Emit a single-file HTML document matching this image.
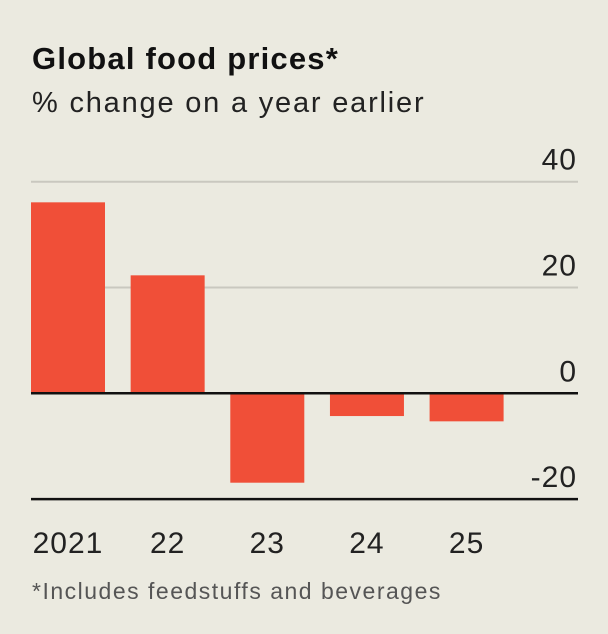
<!DOCTYPE html>
<html><head><meta charset="utf-8"><style>
html,body{margin:0;padding:0;background:#ebeae0;}
body{width:608px;height:634px;position:relative;overflow:hidden;font-family:"Liberation Sans",sans-serif;}
.t{position:absolute;white-space:nowrap;}
</style></head><body>
<div class="t" style="left:32px;top:41px;font-size:31px;font-weight:bold;color:#111;letter-spacing:1.2px;">Global food prices*</div>
<div class="t" style="left:32px;top:87px;font-size:29px;color:#222;letter-spacing:1.8px;">% change on a year earlier</div>
<svg id="chart" width="608" height="634" style="position:absolute;left:0;top:0;"></svg>
<div class="t" style="left:32px;top:578px;font-size:23px;color:#555;letter-spacing:1.5px;">*Includes feedstuffs and beverages</div>
<script>
const categories=["2021","22","23","24","25"];
const values=[36.1,22.3,-16.9,-4.3,-5.3];
const ticks=[40,20,0,-20];
const ns="http://www.w3.org/2000/svg";
const svg=document.getElementById('chart');
const y=v=>393.3-v*(105.8/20);
const x=i=>31+i*99.65;
const bw=74;
function mk(t,a){const e=document.createElementNS(ns,t);for(const k in a)e.setAttribute(k,a[k]);svg.appendChild(e);return e;}
ticks.forEach(t=>{
  const l=mk('line',{x1:31,x2:578,y1:y(t),y2:y(t),stroke:t===0||t===-20?'#111':'#c9c8bf','stroke-width':t===0||t===-20?2.5:2});
  
  
  const tx=mk('text',{x:577,y:y(t)-12,'text-anchor':'end','font-size':30,'letter-spacing':1,fill:'#222','font-family':'Liberation Sans, sans-serif'});
  tx.textContent=t;
  
  
});
values.forEach((v,i)=>{
  const r=mk('rect',{x:x(i),y:Math.min(y(v),y(0)),width:bw,height:Math.abs(y(v)-y(0)),fill:'#f04f38'});
  
  
  const tx=mk('text',{x:x(i)+bw/2,y:553,'text-anchor':'middle','font-size':30,'letter-spacing':1,fill:'#222','font-family':'Liberation Sans, sans-serif'});
  tx.textContent=categories[i];
  
  
});
const z=mk('line',{x1:31,x2:578,y1:y(0),y2:y(0),stroke:'#111','stroke-width':2.5});


</script>
</body></html>
